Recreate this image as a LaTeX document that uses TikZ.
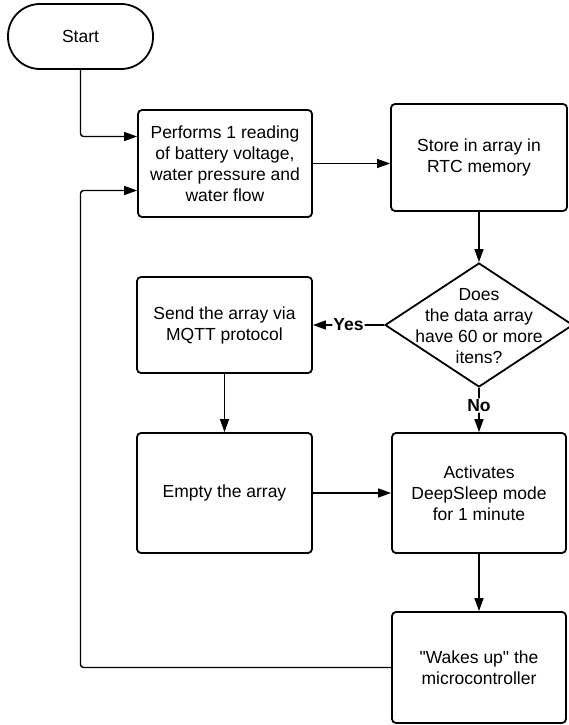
\documentclass[tikz,border=0pt]{standalone}
\usepackage{fontspec}
\setmainfont{Liberation Sans}
\usetikzlibrary{arrows.meta,shapes.geometric}

\begin{document}
\begin{tikzpicture}[x=1pt,y=-1pt,
  >={Triangle[length=13pt,width=9pt]},
  every node/.style={font=\fontsize{17.5}{21}\selectfont},
  box/.style={draw,line width=1.8pt,rounded corners=4pt,align=center,inner sep=0pt},
  terminal/.style={draw,line width=1.8pt,rounded corners=32pt,minimum width=145pt,minimum height=65pt},
  decision/.style={draw,diamond,line width=1.8pt,minimum width=188pt,minimum height=124pt,inner sep=0pt},
  line/.style={line width=1.4pt,rounded corners=3pt},
  tag/.style={fill=white,inner sep=1pt,font=\fontsize{17.5}{21}\selectfont\bfseries}]

\useasboundingbox (0,0) rectangle (569,725);

\node[terminal] (start) at (80.5,36.5) {Start};
\node[box,minimum width=174pt,minimum height=107pt] (read) at (225,163.5)
  {Performs 1 reading\\of battery voltage,\\water pressure and\\water flow};
\node[box,minimum width=176pt,minimum height=107pt] (store) at (479,157.5)
  {Store in array in\\RTC memory};
\node[decision] (check) at (479,325) {};
\node[align=center] (checktxt) at (479,326) {Does\\the data array\\have 60 or more\\itens?};
\node[box,minimum width=175pt,minimum height=96pt] (send) at (224.5,325)
  {Send the array via\\MQTT protocol};
\node[box,minimum width=175pt,minimum height=120pt] (empty) at (224.5,493)
  {Empty the array};
\node[box,minimum width=174pt,minimum height=120pt] (sleep) at (479,493)
  {Activates\\DeepSleep mode\\for 1 minute};
\node[box,minimum width=174pt,minimum height=111pt] (wake) at (479,667.5)
  {\textquotedbl Wakes up\textquotedbl{} the\\microcontroller};

\draw[line,->] (start.south) |- ([yshift=27pt]read.west);
\draw[line,->] (read.east) -- (read.east -| store.west);
\draw[line,->] (store.south -| check.north) -- (check.north);
\draw[line,->] (check.west) -- node[tag] {Yes} (send.east);
\draw[line,->] (check.south) -- node[tag,pos=0.4] {No} (sleep.north);
\draw[line,->] (send.south) -- (empty.north);
\draw[line,->] (empty.east) -- (sleep.west);
\draw[line,->] (sleep.south) -- (wake.north);
\draw[line,->] (wake.west) -| ([yshift=-27pt]read.west -| start.south) -- ([yshift=-27pt]read.west);

\end{tikzpicture}
\end{document}
